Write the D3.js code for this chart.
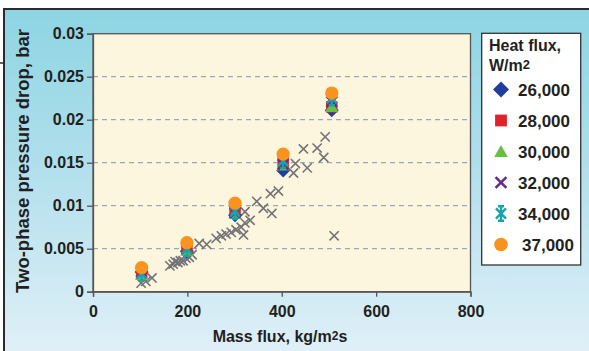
<!DOCTYPE html>
<html>
<head>
<meta charset="utf-8">
<script src="https://cdn.jsdelivr.net/npm/d3@7"></script>
<style>
  body { margin: 0; background: #fff; }
  svg { display: block; font-family: "Liberation Sans", Arial, sans-serif; font-weight: bold; }
</style>
</head>
<body>
<svg id="chart" width="589" height="351"></svg>
<script>
// data
const massFlux = [103, 199, 301, 403, 506];
const heatFlux = ['26,000', '28,000', '30,000', '32,000', '34,000', '37,000'];
const drop26 = [0.0023, 0.0047, 0.0089, 0.0141, 0.0211];
const drop28 = [0.0024, 0.0052, 0.0097, 0.0150, 0.0215];
const drop30 = [0.0020, 0.0048, 0.0091, 0.0147, 0.0215];
const drop32 = [0.0022, 0.0050, 0.0092, 0.0148, 0.0221];
const drop34 = [0.0021, 0.0050, 0.0093, 0.0152, 0.0225];
const drop37 = [0.0028, 0.0057, 0.0103, 0.0160, 0.0231];

// other data (gray crosses, not in legend)
const otherFlux = [102, 112, 125, 163, 170, 174, 180, 185, 191, 197, 204, 210, 225, 241,
  261, 272, 282, 293, 303, 314, 322, 322, 319, 333, 347, 361, 379, 376, 393,
  425, 429, 446, 454, 475, 489, 492, 511];
const otherDrop = [0.0010, 0.0012, 0.0016, 0.0030, 0.0032, 0.0035, 0.0034, 0.0036, 0.0036, 0.0039, 0.0040, 0.0043, 0.0056, 0.0055,
  0.0062, 0.0065, 0.0067, 0.0069, 0.0072, 0.0075, 0.0080, 0.0093, 0.0066, 0.0083, 0.0105, 0.0097, 0.0091, 0.0114, 0.0117,
  0.0138, 0.0149, 0.0166, 0.0144, 0.0167, 0.0156, 0.0180, 0.0065];

const xTicks = [0, 200, 400, 600, 800];
const yTicks = [0, 0.005, 0.01, 0.015, 0.02, 0.025, 0.03];
const yTickLabels = ['0', '0.005', '0.01', '0.015', '0.02', '0.025', '0.03'];

const series = [
  { name: heatFlux[0], values: drop26, shape: 'diamond', color: '#1f3f9a' },
  { name: heatFlux[1], values: drop28, shape: 'square', color: '#e1222b' },
  { name: heatFlux[2], values: drop30, shape: 'triangle', color: '#6cbd48' },
  { name: heatFlux[3], values: drop32, shape: 'cross', color: '#6a2c8c' },
  { name: heatFlux[4], values: drop34, shape: 'star', color: '#16a3ad' },
  { name: heatFlux[5], values: drop37, shape: 'circle', color: '#f7931e' }
];

const svg = d3.select('#chart');

// background gradient
const defs = svg.append('defs');
const grad = defs.append('linearGradient')
  .attr('id', 'bg').attr('x1', 0).attr('y1', 0).attr('x2', 0).attr('y2', 1);
grad.append('stop').attr('offset', '0%').attr('stop-color', '#8dd5e3');
grad.append('stop').attr('offset', '40%').attr('stop-color', '#aedeeb');
grad.append('stop').attr('offset', '100%').attr('stop-color', '#e4f1f9');

svg.append('rect')
  .attr('x', 4).attr('y', 9).attr('width', 600).attr('height', 360)
  .attr('fill', 'url(#bg)')
  .attr('stroke', '#2b2b2b').attr('stroke-width', 2);

svg.append('line')
  .attr('x1', 0).attr('x2', 5).attr('y1', 63).attr('y2', 63)
  .attr('stroke', '#2b2b2b').attr('stroke-width', 1.5);

const x = d3.scaleLinear().domain([0, 800]).range([93, 470.5]);
const y = d3.scaleLinear().domain([0, 0.03]).range([291.7, 33.7]);

// plot area
svg.append('rect')
  .attr('x', x(0)).attr('y', y(0.03))
  .attr('width', x(800) - x(0)).attr('height', y(0) - y(0.03))
  .attr('fill', '#fcf6df');

// gridlines
svg.append('g')
  .selectAll('line')
  .data(yTicks.filter(d => d > 0 && d < 0.03))
  .enter()
  .append('line')
  .attr('x1', x(0)).attr('x2', x(800))
  .attr('y1', d => y(d)).attr('y2', d => y(d))
  .attr('stroke', '#9ea6bd')
  .attr('stroke-width', 1.2)
  .attr('stroke-dasharray', '5,4');

svg.append('rect')
  .attr('x', x(0)).attr('y', y(0.03))
  .attr('width', x(800) - x(0)).attr('height', y(0) - y(0.03))
  .attr('fill', 'none')
  .attr('stroke', '#555')
  .attr('stroke-width', 1.3);

// axes
const yAxis = svg.append('g')
  .attr('transform', `translate(${x(0)},0)`)
  .call(d3.axisLeft(y).tickValues(yTicks).tickSize(6).tickPadding(3)
    .tickFormat((d, i) => yTickLabels[i]));

const xAxis = svg.append('g')
  .attr('transform', `translate(0,${y(0)})`)
  .call(d3.axisBottom(x).tickValues(xTicks).tickSize(5).tickPadding(9)
    .tickFormat(d3.format('d')));

[yAxis, xAxis].forEach(ax => {
  ax.select('.domain').attr('stroke', '#555').attr('stroke-width', 1.3);
  ax.selectAll('.tick line').attr('stroke', '#555').attr('stroke-width', 1.3);
  ax.selectAll('.tick text')
    .attr('fill', '#231f20')
    .style('font-family', '"Liberation Sans", Arial, sans-serif')
    .style('font-weight', 'bold')
    .style('font-size', '16px');
});

// axis titles
svg.append('text')
  .attr('transform', 'translate(29,161) rotate(-90)')
  .attr('text-anchor', 'middle')
  .attr('fill', '#231f20')
  .style('font-size', '18.5px')
  .text('Two-phase pressure drop, bar');

const xt = svg.append('text')
  .attr('x', 280).attr('y', 342)
  .attr('text-anchor', 'middle')
  .attr('fill', '#231f20')
  .style('font-size', '16px');
xt.append('tspan').text('Mass flux, kg/m');
xt.append('tspan').attr('dy', -2).style('font-size', '12px').text('2');
xt.append('tspan').attr('dy', 2).text('s');

// marker drawing
function drawMarker(g, shape, color, s) {
  if (shape === 'diamond') {
    g.append('path')
      .attr('d', `M0,${-s}L${s},0L0,${s}L${-s},0Z`)
      .attr('fill', color);
  } else if (shape === 'square') {
    g.append('rect')
      .attr('x', -s * 0.82).attr('y', -s * 0.82)
      .attr('width', s * 1.64).attr('height', s * 1.64)
      .attr('fill', color);
  } else if (shape === 'triangle') {
    g.append('path')
      .attr('d', `M0,${-s * 0.9}L${s * 0.95},${s * 0.75}L${-s * 0.95},${s * 0.75}Z`)
      .attr('fill', color);
  } else if (shape === 'cross') {
    const c = s * 0.75;
    g.append('path')
      .attr('d', `M${-c},${-c}L${c},${c}M${-c},${c}L${c},${-c}`)
      .attr('stroke', color).attr('stroke-width', 2.6).attr('fill', 'none');
  } else if (shape === 'star') {
    const c = s * 0.7;
    g.append('path')
      .attr('d', `M${-c},${-c}L${c},${c}M${-c},${c}L${c},${-c}M0,${-s}L0,${s}` +
        `M${-c * 0.6},${-s}L${c * 0.6},${-s}M${-c * 0.6},${s}L${c * 0.6},${s}`)
      .attr('stroke', color).attr('stroke-width', 2.4).attr('fill', 'none');
  } else if (shape === 'circle') {
    g.append('circle').attr('r', s * 0.95).attr('fill', color);
  } else if (shape === 'gray') {
    g.append('path')
      .attr('d', `M${-s},${-s}L${s},${s}M${-s},${s}L${s},${-s}`)
      .attr('stroke', color).attr('stroke-width', 1.6).attr('fill', 'none');
  }
}

// gray crosses
const otherData = otherFlux.map((f, i) => ({ f, p: otherDrop[i] }));
svg.append('g')
  .selectAll('g')
  .data(otherData)
  .enter()
  .append('g')
  .attr('transform', d => `translate(${x(d.f)},${y(d.p)})`)
  .each(function() { drawMarker(d3.select(this), 'gray', '#737376', 4.6); });

// heat flux series
series.forEach(s => {
  svg.append('g')
    .selectAll('g')
    .data(s.values.map((v, i) => ({ f: massFlux[i], p: v })))
    .enter()
    .append('g')
    .attr('transform', d => `translate(${x(d.f)},${y(d.p)})`)
    .each(function() { drawMarker(d3.select(this), s.shape, s.color, 7); });
});

// legend
const legend = svg.append('g');
legend.append('rect')
  .attr('x', 481.7).attr('y', 33.3).attr('width', 99).attr('height', 231.7)
  .attr('fill', '#fff').attr('stroke', '#333').attr('stroke-width', 1.3);

legend.append('text')
  .attr('x', 489).attr('y', 50.5)
  .attr('fill', '#231f20')
  .style('font-size', '16px')
  .text('Heat flux,');
const lt = legend.append('text')
  .attr('x', 489).attr('y', 71)
  .attr('fill', '#231f20')
  .style('font-size', '16px');
lt.append('tspan').text('W/m');
lt.append('tspan').attr('dy', -2).style('font-size', '13px').text('2');

const rows = legend.selectAll('g.row')
  .data(series)
  .enter()
  .append('g')
  .attr('class', 'row')
  .attr('transform', (d, i) => `translate(501,${89.5 + i * 31})`);
rows.each(function(d) { drawMarker(d3.select(this), d.shape, d.color, d.shape === 'diamond' ? 8 : 7.2); });
rows.append('text')
  .attr('x', (d, i) => i === 5 ? 21 : 17)
  .attr('y', 6)
  .attr('fill', '#231f20')
  .style('font-size', '17px')
  .text(d => d.name);
</script>
</body>
</html>
